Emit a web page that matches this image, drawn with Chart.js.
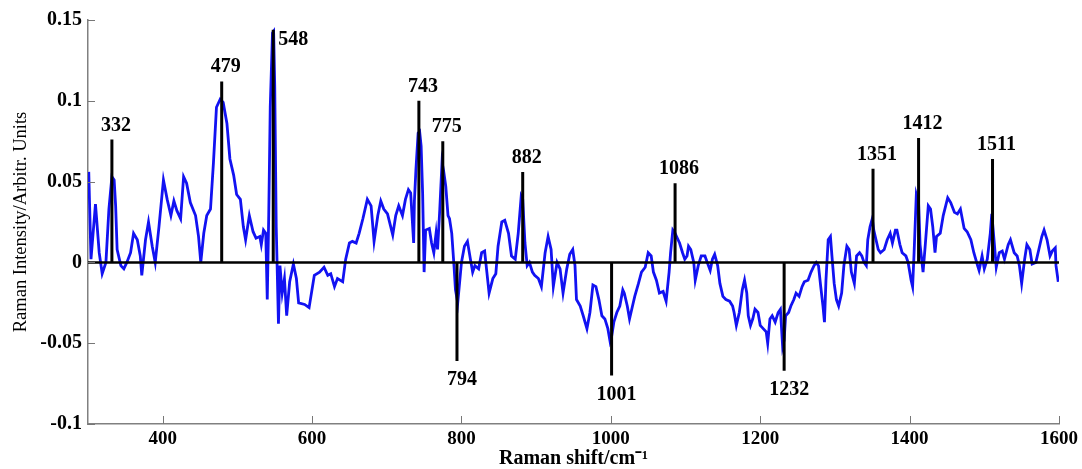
<!DOCTYPE html>
<html>
<head>
<meta charset="utf-8">
<script src="https://cdn.jsdelivr.net/npm/chart.js@4.4.1/dist/chart.umd.min.js"></script>
<style>
  body { margin: 0; background: #fff; }
</style>
</head>
<body>
<canvas id="ramanChart" width="1082" height="469"></canvas>
<script>
// Spectrum
var ramanShift = [301, 304, 310, 315, 319, 324, 328, 332, 335, 337, 339, 344, 348, 352, 357, 361, 366, 370, 372, 377,
    381, 386, 390, 395, 401, 406, 411, 415, 419, 424, 428, 432, 437, 444, 448, 451, 455, 459, 464, 468,
    472, 477, 481, 486, 490, 495, 499, 504, 508, 511, 516, 521, 525, 530, 532, 535, 538, 540, 542, 544,
    547, 548.5, 550, 552, 555, 557, 560, 563, 566, 570, 575, 579, 582, 590, 596, 603, 610, 616, 621, 625,
    630, 634, 641, 645, 650, 654, 659, 663, 668, 674, 679, 683, 688, 692, 696, 701, 708, 712, 716, 721,
    725, 729, 732, 736, 737, 739, 742, 744, 746, 748, 750, 752, 757, 760, 763, 766, 768, 771, 774, 776,
    779, 782, 784, 787, 790, 792, 795, 798, 800, 804, 808, 812, 815, 818, 823, 827, 831, 834, 837, 842,
    846, 849, 854, 858, 863, 867, 872, 876, 880, 882, 885, 888, 891, 895, 898, 903, 907, 912, 916, 920,
    923, 928, 932, 936, 941, 945, 949, 952, 954, 959, 963, 968, 972, 976, 980, 984, 988, 992, 996, 999,
    1001, 1004, 1008, 1012, 1016, 1018, 1022, 1025, 1029, 1032, 1037, 1041, 1046, 1050, 1054, 1057, 1061, 1065, 1070, 1074,
    1078, 1080, 1083, 1086, 1088, 1092, 1096, 1099, 1102, 1104, 1107, 1111, 1113, 1117, 1121, 1126, 1129, 1133, 1136, 1139,
    1143, 1146, 1150, 1154, 1159, 1163, 1165, 1168, 1172, 1176, 1179, 1182, 1184, 1187, 1190, 1193, 1197, 1200, 1204, 1208,
    1210, 1213, 1216, 1220, 1224, 1227, 1230, 1232, 1234, 1238, 1241, 1245, 1248, 1252, 1256, 1259, 1264, 1268, 1272, 1275,
    1278, 1281, 1284, 1286, 1288, 1291, 1294, 1296, 1299, 1302, 1305, 1309, 1312, 1316, 1319, 1322, 1326, 1329, 1333, 1336,
    1339, 1342, 1344, 1347, 1350, 1352, 1355, 1358, 1361, 1366, 1370, 1374, 1377, 1381, 1383, 1387, 1390, 1395, 1398, 1402,
    1404, 1406, 1409, 1412, 1414, 1418, 1421, 1425, 1428, 1431, 1434, 1436, 1441, 1445, 1451, 1455, 1460, 1464, 1468, 1473,
    1477, 1482, 1486, 1491, 1493, 1497, 1500, 1504, 1508, 1510, 1513, 1516, 1520, 1524, 1527, 1532, 1535, 1540, 1544, 1547,
    1550, 1554, 1557, 1561, 1564, 1569, 1573, 1577, 1580, 1584, 1588, 1591, 1595, 1596, 1599];
var intensity = [0.056, 0.002, 0.036, 0.006, -0.007, 0.000, 0.033, 0.053, 0.051, 0.035, 0.008, -0.002, -0.004, 0.000, 0.006, 0.018, 0.014, 0.004, -0.008, 0.014,
    0.025, 0.010, 0.000, 0.022, 0.051, 0.039, 0.029, 0.038, 0.032, 0.027, 0.053, 0.049, 0.037, 0.029, 0.016, 0.000, 0.018, 0.029, 0.033, 0.062,
    0.096, 0.101, 0.099, 0.086, 0.064, 0.054, 0.042, 0.039, 0.022, 0.014, 0.029, 0.019, 0.015, 0.016, 0.011, 0.020, 0.018, -0.023, 0.030, 0.096,
    0.142, 0.143, 0.109, 0.022, -0.038, -0.002, -0.019, -0.010, -0.033, -0.012, -0.001, -0.010, -0.025, -0.026, -0.028, -0.008, -0.006, -0.003, -0.008, -0.007,
    -0.015, -0.010, -0.012, 0.002, 0.012, 0.013, 0.012, 0.018, 0.027, 0.039, 0.035, 0.013, 0.029, 0.038, 0.033, 0.030, 0.017, 0.029, 0.035, 0.029,
    0.039, 0.045, 0.043, 0.012, 0.038, 0.057, 0.080, 0.081, 0.072, 0.043, -0.006, 0.020, 0.021, 0.012, 0.006, 0.018, 0.008, 0.033, 0.062, 0.057,
    0.047, 0.029, 0.027, 0.018, -0.002, -0.017, -0.025, -0.010, 0.000, 0.010, 0.013, 0.002, -0.006, -0.002, -0.004, 0.006, 0.007, -0.006, -0.019, -0.010,
    -0.007, 0.010, 0.025, 0.026, 0.018, 0.004, 0.002, 0.018, 0.041, 0.039, 0.012, -0.002, 0.000, -0.006, -0.008, -0.010, -0.015, 0.006, 0.016, 0.008,
    -0.015, 0.000, -0.004, -0.019, -0.004, 0.005, 0.008, -0.002, -0.023, -0.027, -0.033, -0.041, -0.031, -0.014, -0.015, -0.023, -0.033, -0.035, -0.041, -0.049,
    -0.046, -0.037, -0.031, -0.027, -0.017, -0.019, -0.027, -0.035, -0.027, -0.021, -0.013, -0.006, -0.003, 0.006, 0.004, -0.006, -0.011, -0.019, -0.018, -0.024,
    -0.006, 0.006, 0.020, 0.018, 0.016, 0.012, 0.006, 0.002, 0.004, 0.010, 0.008, 0.000, -0.011, -0.002, 0.004, 0.004, 0.000, -0.005, 0.002, 0.005,
    -0.002, -0.013, -0.021, -0.023, -0.024, -0.027, -0.031, -0.039, -0.031, -0.017, -0.011, -0.019, -0.033, -0.039, -0.035, -0.029, -0.031, -0.039, -0.041, -0.043,
    -0.050, -0.035, -0.033, -0.037, -0.031, -0.029, -0.052, -0.048, -0.033, -0.031, -0.027, -0.023, -0.019, -0.021, -0.015, -0.012, -0.011, -0.006, -0.002, 0.000,
    -0.002, -0.015, -0.027, -0.037, -0.011, 0.014, 0.016, 0.004, -0.013, -0.023, -0.027, -0.019, -0.002, 0.010, 0.008, -0.006, -0.013, 0.004, 0.006, 0.004,
    0.000, -0.002, 0.014, 0.022, 0.027, 0.020, 0.014, 0.008, 0.006, 0.008, 0.014, 0.018, 0.012, 0.020, 0.020, 0.011, 0.006, 0.004, 0.000, -0.011,
    -0.015, 0.006, 0.042, 0.037, 0.011, -0.006, 0.011, 0.035, 0.033, 0.022, 0.006, 0.016, 0.018, 0.029, 0.040, 0.037, 0.031, 0.030, 0.033, 0.021,
    0.019, 0.014, 0.006, -0.002, -0.005, 0.004, -0.004, 0.002, 0.018, 0.030, 0.014, -0.003, 0.006, 0.007, 0.002, 0.011, 0.014, 0.006, 0.004, -0.002,
    -0.013, 0.002, 0.011, 0.008, -0.001, 0.000, 0.008, 0.016, 0.020, 0.014, 0.004, 0.007, 0.009, -0.002, -0.012];

// Marked bands (stick lines)
var peakShift = [332, 479, 548, 743, 775, 794, 882, 1001, 1086, 1232, 1351, 1412, 1511];
var peakHeight = [0.076, 0.112, 0.144, 0.100, 0.075, -0.061, 0.056, -0.070, 0.049, -0.067, 0.058, 0.077, 0.064];

var xTickValues = [400, 600, 800, 1000, 1200, 1400, 1600];
var yTickValues = [-0.1, -0.05, 0, 0.05, 0.1, 0.15];

var serif = '"Liberation Serif", "Times New Roman", serif';

var spectrum = ramanShift.map(function(s, i) { return { x: s, y: intensity[i] }; });

var sticks = [];
peakShift.forEach(function(s, i) {
    sticks.push({ x: s, y: 0 }, { x: s, y: peakHeight[i] }, { x: s, y: null });
});

var baseline = [{ x: 300, y: 0 }, { x: 1600, y: 0 }];

// peak numbers and inward tick marks
var peakLabels = {
    id: 'peakLabels',
    afterDatasetsDraw: function(chart) {
        var ctx = chart.ctx;
        var xs = chart.scales.x, ys = chart.scales.y;
        ctx.save();
        ctx.font = 'bold 20px ' + serif;
        ctx.fillStyle = '#000';
        peakShift.forEach(function(s, i) {
            var h = peakHeight[i];
            var px = xs.getPixelForValue(s);
            var py = ys.getPixelForValue(h);
            if (s === 548) {
                ctx.textAlign = 'left';
                ctx.textBaseline = 'alphabetic';
                ctx.fillText(String(s), px + 5, py + 15);
            } else if (h > 0) {
                ctx.textAlign = 'center';
                ctx.textBaseline = 'alphabetic';
                ctx.fillText(String(s), px + 4, py - 9);
            } else {
                ctx.textAlign = 'center';
                ctx.textBaseline = 'top';
                ctx.fillText(String(s), px + 5, py + 9);
            }
        });

        ctx.strokeStyle = '#777';
        ctx.lineWidth = 1;
        ctx.beginPath();
        xTickValues.forEach(function(v) {
            var p = Math.round(xs.getPixelForValue(v)) + 0.5;
            ctx.moveTo(p, ys.bottom);
            ctx.lineTo(p, ys.bottom - 8);
        });
        yTickValues.forEach(function(v) {
            var p = Math.round(ys.getPixelForValue(v)) + 0.5;
            ctx.moveTo(xs.left, p);
            ctx.lineTo(xs.left + 7, p);
        });
        ctx.stroke();
        ctx.restore();
    }
};

var ctxRaman = document.getElementById('ramanChart').getContext('2d');
var ramanChart = new Chart(ctxRaman, {
    type: 'line',
    data: {
        datasets: [{
            label: 'baseline',
            data: baseline,
            borderColor: '#000',
            borderWidth: 2.5,
            pointRadius: 0
        }, {
            label: 'bands',
            data: sticks,
            borderColor: '#000',
            borderWidth: 3,
            pointRadius: 0,
            spanGaps: false
        }, {
            label: 'spectrum',
            data: spectrum,
            borderColor: '#1212f2',
            borderWidth: 2.8,
            pointRadius: 0,
            tension: 0
        }]
    },
    options: {
        responsive: false,
        animation: false,
        layout: { padding: { top: 20, right: 22, left: 0, bottom: 0 } },
        plugins: {
            legend: { display: false },
            tooltip: { enabled: false }
        },
        scales: {
            x: {
                type: 'linear',
                min: 300,
                max: 1600,
                afterBuildTicks: function(scale) {
                    scale.ticks = xTickValues.map(function(v) { return { value: v }; });
                },
                afterFit: function(scale) { scale.height = 45; },
                grid: { display: true, drawOnChartArea: false, drawTicks: false },
                border: { display: true, color: '#808080', width: 1.5 },
                ticks: {
                    padding: 4,
                    color: '#000',
                    font: { family: serif, size: 19, weight: 'bold' },
                    maxRotation: 0,
                    callback: function(v) { return String(v); }
                },
                title: {
                    display: true,
                    text: 'Raman shift/cm\u207B\u00B9',
                    color: '#000',
                    font: { family: serif, size: 20, weight: 'bold', lineHeight: 1 },
                    padding: 0
                }
            },
            y: {
                min: -0.1,
                max: 0.15,
                afterBuildTicks: function(scale) {
                    scale.ticks = yTickValues.map(function(v) { return { value: v }; });
                },
                afterFit: function(scale) { scale.width = 88; },
                grid: { display: true, drawOnChartArea: false, drawTicks: false },
                border: { display: true, color: '#808080', width: 1.5 },
                ticks: {
                    padding: 6,
                    color: '#000',
                    font: { family: serif, size: 20, weight: 'bold' },
                    callback: function(v) { return String(v); }
                },
                title: {
                    display: true,
                    text: 'Raman Intensity/Arbitr. Units',
                    color: '#000',
                    font: { family: serif, size: 18.5, lineHeight: 1 },
                    padding: { top: 12, bottom: 0 }
                }
            }
        }
    },
    plugins: [peakLabels]
});
</script>
</body>
</html>
